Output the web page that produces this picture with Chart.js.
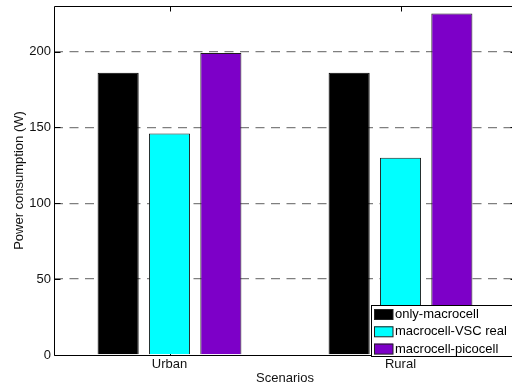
<!DOCTYPE html>
<html>
<head>
<meta charset="utf-8">
<script src="https://cdn.jsdelivr.net/npm/chart.js@4/dist/chart.umd.min.js"></script>
<style>
  html, body { margin: 0; padding: 0; background: #fff; }
  #wrap { width: 512px; height: 387px; overflow: hidden; }
</style>
</head>
<body>
<div id="wrap">
  <canvas id="powerChart" width="530" height="387"></canvas>
</div>
<script>
// scenarios on the x axis
const scenarios = ['Urban', 'Rural'];

// power consumption per scenario (W)
const onlyMacrocell = [186, 186];
const macrocellVscReal = [146, 130];
const macrocellPicocell = [199, 225];

const seriesNames = ['only-macrocell', 'macrocell-VSC real', 'macrocell-picocell'];
const seriesColors = ['#000000', '#00ffff', '#7d00c8'];

const FONT = 'Liberation Sans, Arial, Helvetica, sans-serif';

// box around the plot + inward tick marks, drawn under the bars
const axesBox = {
    id: 'axesBox',
    beforeDatasetsDraw(chart) {
        const c = chart.ctx;
        const a = chart.chartArea;
        const x = chart.scales.x;
        const y = chart.scales.y;
        const L = Math.round(a.left) + 0.5, R = Math.round(a.right) + 0.5;
        const T = Math.round(a.top) + 0.5, B = Math.round(a.bottom) + 0.5;
        c.save();
        c.strokeStyle = '#000';
        c.lineWidth = 1;
        c.beginPath();
        c.rect(L, T, R - L, B - T);
        // y ticks on both sides
        y.ticks.forEach(t => {
            const py = Math.round(y.getPixelForValue(t.value)) + 0.5;
            c.moveTo(L, py); c.lineTo(L + 6, py);
            c.moveTo(R, py); c.lineTo(R - 6, py);
        });
        // x ticks top and bottom
        scenarios.forEach((s, i) => {
            const px = Math.round(x.getPixelForValue(i)) + 0.5;
            c.moveTo(px, T); c.lineTo(px, T + 5);
            c.moveTo(px, B); c.lineTo(px, B - 5);
        });
        c.stroke();
        c.restore();
    }
};

// legend box in the lower right corner of the plot
const boxLegend = {
    id: 'boxLegend',
    afterDraw(chart) {
        const c = chart.ctx;
        const bx = 371.5, by = 305.5, bw = 160, bh = 51;
        c.save();
        c.fillStyle = '#fff';
        c.fillRect(bx, by, bw, bh);
        c.strokeStyle = '#000';
        c.lineWidth = 1;
        c.strokeRect(bx, by, bw, bh);
        c.font = '13px ' + FONT;
        c.textBaseline = 'middle';
        c.textAlign = 'left';
        chart.data.datasets.forEach((ds, i) => {
            const cy = by + 8.5 + i * 17.3;
            c.fillStyle = ds.backgroundColor;
            c.fillRect(374, cy - 5, 19, 10.5);
            c.strokeStyle = '#222';
            c.strokeRect(374.5, cy - 4.5, 18.5, 10);
            c.fillStyle = '#000';
            c.fillText(ds.label, 395, cy + 0.5);
        });
        c.restore();
    }
};

const ctx = document.getElementById('powerChart');

new Chart(ctx.getContext('2d'), {
    type: 'bar',
    data: {
        labels: scenarios,
        datasets: [onlyMacrocell, macrocellVscReal, macrocellPicocell].map((vals, i) => ({
            label: seriesNames[i],
            data: vals,
            backgroundColor: seriesColors[i],
            borderColor: i === 0 ? '#000' : '#1e1e1e',
            borderWidth: 1,
            categoryPercentage: 0.667,
            barPercentage: 0.8
        }))
    },
    options: {
        responsive: false,
        animation: false,
        events: [],
        layout: { padding: { top: 6, right: 14, left: 0, bottom: 0 } },
        plugins: {
            legend: { display: false },
            tooltip: { enabled: false }
        },
        scales: {
            x: {
                offset: true,
                grid: { display: false, drawTicks: false },
                border: { display: false },
                ticks: { color: '#111', font: { family: FONT, size: 13 }, padding: 2 },
                title: {
                    display: true,
                    text: 'Scenarios',
                    color: '#111',
                    font: { family: FONT, size: 13 },
                    padding: { top: 0, bottom: 1 }
                },
                afterFit(s) {
                    s.height = 32;
                    s.paddingLeft = 0;
                    s.paddingRight = 0;
                }
            },
            y: {
                min: 0,
                max: 230,
                grid: {
                    color: c => c.tick && c.tick.value === 0 ? 'rgba(0,0,0,0)' : '#7f7f7f',
                    lineWidth: 1.3,
                    drawTicks: false
                },
                border: { display: false, dash: [9, 6.5] },
                ticks: {
                    stepSize: 50,
                    includeBounds: false,
                    color: '#111',
                    font: { family: FONT, size: 13 },
                    padding: 3
                },
                title: {
                    display: true,
                    text: 'Power consumption (W)',
                    color: '#111',
                    font: { family: FONT, size: 13 },
                    padding: { top: 12, bottom: 0 }
                },
                afterFit(s) {
                    s.width = 54;
                    s.paddingTop = 0;
                    s.paddingBottom = 0;
                }
            }
        }
    },
    plugins: [axesBox, boxLegend]
});
</script>
</body>
</html>
